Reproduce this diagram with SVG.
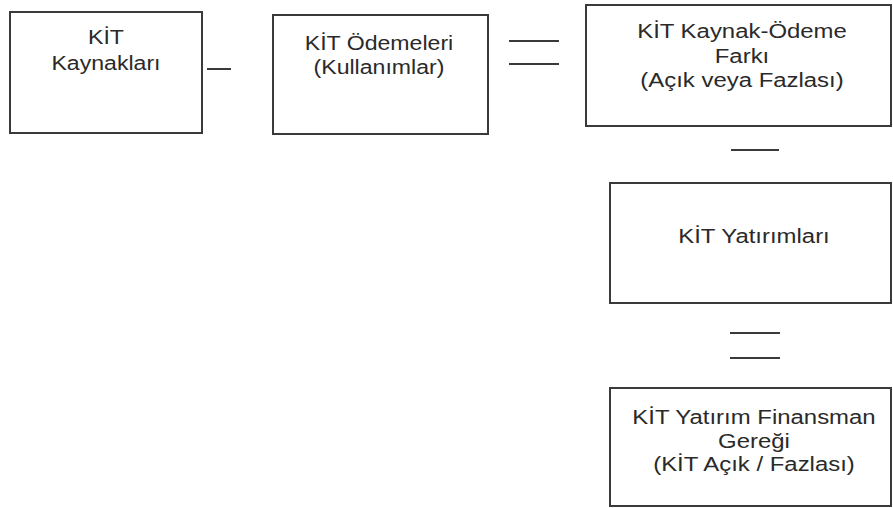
<svg xmlns="http://www.w3.org/2000/svg" width="893" height="508" viewBox="0 0 893 508">
<style>
.box{fill:#fff;stroke:#3a3a3a;stroke-width:2}
.lbl{font-family:"Liberation Sans",Arial,sans-serif;font-size:21px;fill:#2a2a2a;text-anchor:middle}
.dash{stroke:#3a3a3a;stroke-width:2;fill:none}
</style>
<rect width="893" height="508" fill="#fff"/>
<g id="connectors">
<line class="dash" x1="207" y1="69" x2="231" y2="69"/>
<line class="dash" x1="509" y1="41" x2="559" y2="41"/>
<line class="dash" x1="509" y1="64" x2="559" y2="64"/>
<line class="dash" x1="731" y1="150" x2="779" y2="150"/>
<line class="dash" x1="730" y1="333" x2="780" y2="333"/>
<line class="dash" x1="730" y1="358" x2="780" y2="358"/>
</g>
<g id="kaynaklar">
<rect class="box" x="10" y="12" width="192" height="121"/>
<text class="lbl" transform="translate(106,0) scale(1.1,1)"><tspan x="0" y="44">KİT</tspan><tspan x="0" y="70">Kaynakları</tspan></text>
</g>
<g id="odemeler">
<rect class="box" x="273" y="15" width="215" height="119"/>
<text class="lbl" transform="translate(379,0) scale(1.1,1)"><tspan x="0" y="50">KİT Ödemeleri</tspan><tspan x="0" y="74">(Kullanımlar)</tspan></text>
</g>
<g id="fark">
<rect class="box" x="586" y="5" width="305" height="121"/>
<text class="lbl" transform="translate(742,0) scale(1.14,1)"><tspan x="0" y="38">KİT Kaynak-Ödeme</tspan><tspan x="0" y="63">Farkı</tspan><tspan x="0" y="87">(Açık veya Fazlası)</tspan></text>
</g>
<g id="yatirimlar">
<rect class="box" x="610" y="183" width="281" height="120"/>
<text class="lbl" transform="translate(754,0) scale(1.14,1)"><tspan x="0" y="243">KİT Yatırımları</tspan></text>
</g>
<g id="finansman">
<rect class="box" x="610" y="388" width="281" height="118"/>
<text class="lbl" transform="translate(754,0) scale(1.14,1)"><tspan x="0" y="424">KİT Yatırım Finansman</tspan><tspan x="0" y="448">Gereği</tspan><tspan x="0" y="471">(KİT Açık / Fazlası)</tspan></text>
</g>
</svg>
